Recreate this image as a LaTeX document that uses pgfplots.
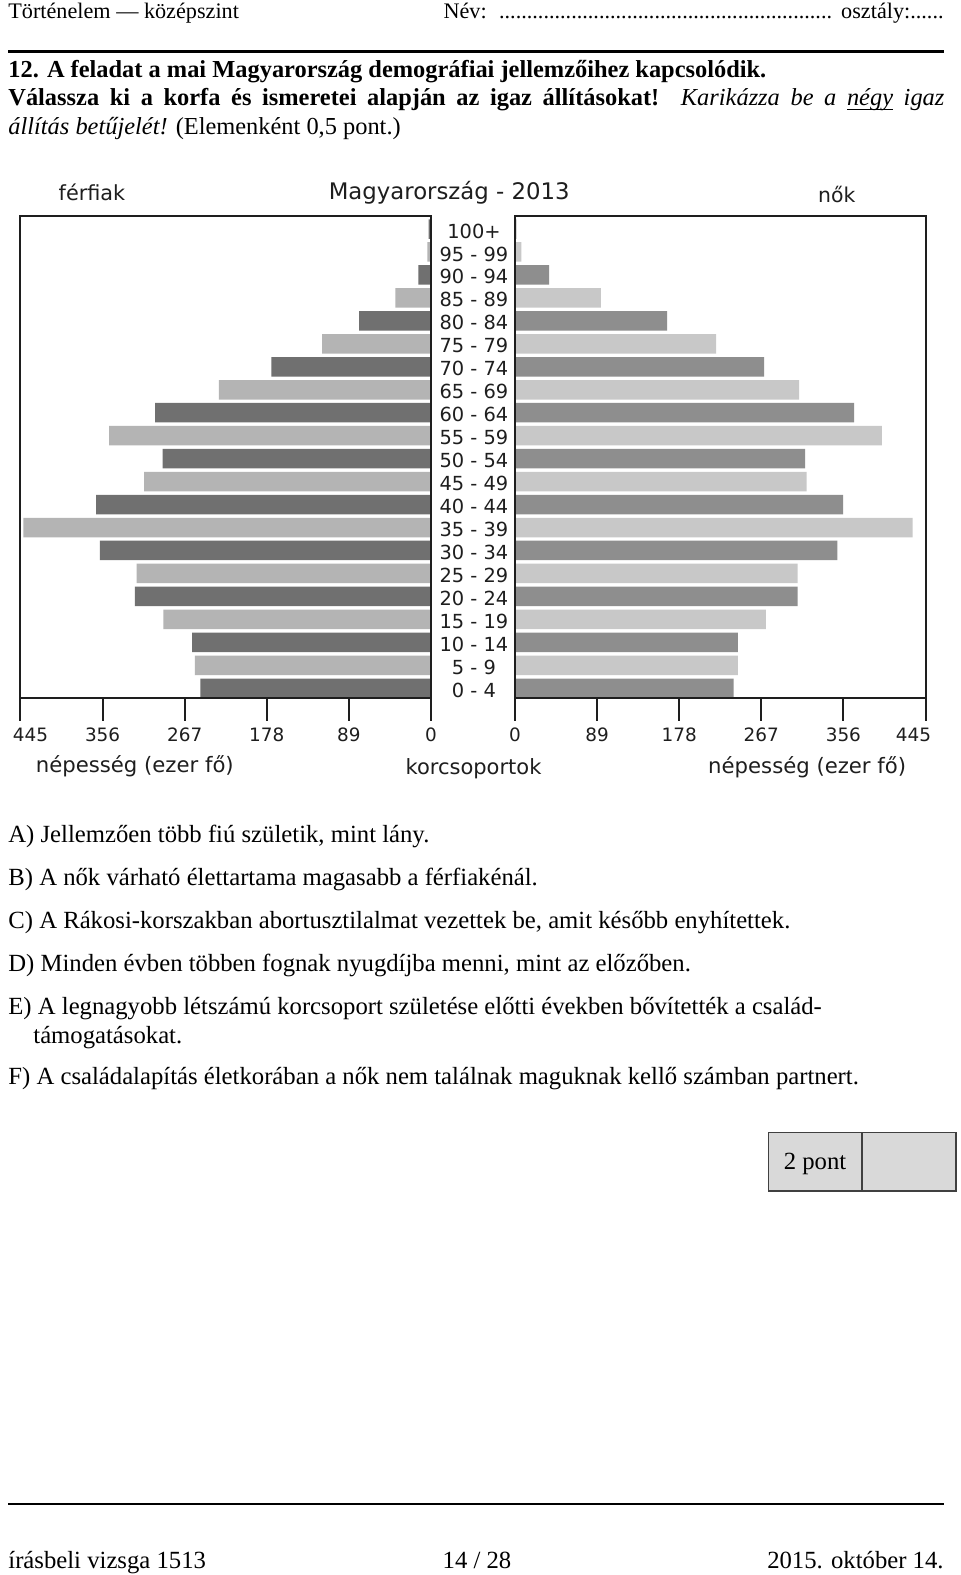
\documentclass[border=0pt]{standalone}
\usepackage{pgfplots}
\pgfplotsset{compat=1.18}
\usepackage{fontspec}
\setmainfont{Liberation Serif}
\newfontfamily\chartfont{DejaVu Sans}
\definecolor{mdark}{RGB}{112,112,112}
\definecolor{mlight}{RGB}{180,180,180}
\definecolor{fdark}{RGB}{142,142,142}
\definecolor{flight}{RGB}{200,200,200}
\definecolor{axisc}{RGB}{30,30,30}
\definecolor{boxg}{RGB}{217,217,217}
\newcommand\ul[1]{\setbox0\hbox{#1}\rlap{\rule[-2.2pt]{\wd0}{0.6pt}}\box0\relax}
\pgfplotsset{pyr/.style={scale only axis, width=205.25pt, height=241pt,
  xbar, bar width=9.75pt, bar shift=0pt,
  xmin=0, xmax=445, ymin=-0.41, ymax=20.58,
  axis line style={axisc, line width=1pt},
  tick style={axisc, line width=1pt},
  tick align=outside, major tick length=11.5pt,
  xtick pos=left,
  xtick={0,89,178,267,356,445},
  /pgf/number format/assume math mode=true,
  ticklabel style={font=\chartfont\fontsize{9.2}{11}\selectfont, text=axisc},
  axis on top}}
\begin{document}
\begin{tikzpicture}[x=0.5pt,y=0.5pt,font=\fontsize{12.35}{14.25}\selectfont]
\useasboundingbox (0,0) rectangle (960,1575);
\fill[white] (0,0) rectangle (960,1575);
% header
\node[anchor=base west, inner sep=0, font=\fontsize{11.1}{13}\selectfont] at (8,1556.5) {Történelem — középszint};
\node[anchor=base east, inner sep=0, font=\fontsize{11.1}{13}\selectfont] at (944,1556.5) {\hbox to 250pt{Név: \leaders\hbox{.}\hfill\ osztály:......}};
\draw[line width=1.3pt] (8,1523.5) -- (944,1523.5);
\node[anchor=base west, inner sep=0] at (8,1497.5) {\parbox[t]{468pt}{\fontsize{12.2}{14.25}\selectfont
\textbf{12. A feladat a mai Magyarország demográfiai jellemzőihez kapcsolódik.}\par
\textbf{Válassza ki a korfa és ismeretei alapján az igaz állításokat!} \textit{Karikázza be a \ul{négy} igaz}\linebreak
\textit{állítás betűjelét!} (Elemenként 0,5 pont.)}};

% chart: men
\begin{axis}[pyr, at={(10.25pt,438.65pt)}, anchor=south west, x dir=reverse,
  xticklabels={0,89,178,267,356,{\hspace*{10pt}445}},
  ytick=\empty]
\addplot[draw=none, fill=mdark, bar shift=0pt] coordinates {(250,0) (259,2) (321,4) (359,6) (363,8) (291,10) (299,12) (173,14) (78,16) (13.6,18) (2.5,20)};
\addplot[draw=none, fill=mlight, bar shift=0pt] coordinates {(256,1) (290,3) (319,5) (442,7) (311,9) (349,11) (230,13) (118,15) (38.5,17) (3.8,19)};
\end{axis}
% chart: women
\begin{axis}[pyr, at={(257.5pt,438.65pt)}, anchor=south west,
  xticklabels={0,89,178,267,356,{445\hspace*{12pt}}},
  ytick={0,...,20},
  yticklabels={0 - 4,5 - 9,10 - 14,15 - 19,20 - 24,25 - 29,30 - 34,35 - 39,40 - 44,45 - 49,50 - 54,55 - 59,60 - 64,65 - 69,70 - 74,75 - 79,80 - 84,85 - 89,90 - 94,95 - 99,100+},
  ytick style={draw=none},
  yticklabel style={anchor=center, xshift=-9pt, yshift=-1pt, font=\chartfont\fontsize{9.7}{11}\selectfont}]
\addplot[draw=none, fill=fdark, bar shift=0pt] coordinates {(237,0) (241.5,2) (306.5,4) (349.5,6) (355.7,8) (314.5,10) (367.6,12) (270,14) (165,16) (37,18) (1.5,20)};
\addplot[draw=none, fill=flight, bar shift=0pt] coordinates {(241.5,1) (272,3) (306.5,5) (431,7) (316,9) (397.6,11) (308,13) (218,15) (93,17) (7,19)};
\end{axis}
\begin{scope}[text=axisc]
\node[anchor=base, inner sep=0, font=\chartfont\fontsize{10.4}{12}\selectfont] at (92,1374.5) {férfiak};
\node[anchor=base, inner sep=0, font=\chartfont\fontsize{11.4}{13}\selectfont] at (449.2,1375) {Magyarország - 2013};
\node[anchor=base, inner sep=0, font=\chartfont\fontsize{10.2}{12}\selectfont] at (836.7,1372.7) {nők};
\node[anchor=base, inner sep=0, font=\chartfont\fontsize{10.6}{12}\selectfont] at (134.8,802) {népesség (ezer fő)};
\node[anchor=base, inner sep=0, font=\chartfont\fontsize{10.6}{12}\selectfont] at (807.2,801) {népesség (ezer fő)};
\node[anchor=base, inner sep=0, font=\chartfont\fontsize{10.5}{12}\selectfont] at (473.5,800) {korcsoportok};
\end{scope}

% statements
\node[anchor=base west, inner sep=0] at (8,732) {A) Jellemzően több fiú születik, mint lány.};
\node[anchor=base west, inner sep=0] at (8,689) {B) A nők várható élettartama magasabb a férfiakénál.};
\node[anchor=base west, inner sep=0] at (8,646) {C) A Rákosi-korszakban abortusztilalmat vezettek be, amit később enyhítettek.};
\node[anchor=base west, inner sep=0] at (8,603) {D) Minden évben többen fognak nyugdíjba menni, mint az előzőben.};
\node[anchor=base west, inner sep=0] at (8,560) {E) A legnagyobb létszámú korcsoport születése előtti években bővítették a család-};
\node[anchor=base west, inner sep=0] at (33,531) {támogatásokat.};
\node[anchor=base west, inner sep=0] at (8,490) {F) A családalapítás életkorában a nők nem találnak maguknak kellő számban partnert.};

% score box
\filldraw[fill=boxg, draw=black!75, line width=0.7pt] (768.3,442.3) rectangle (956,384);
\draw[black!75, line width=0.7pt] (862,442.3) -- (862,384);
\node[anchor=base, inner sep=0] at (815,405) {2 pont};

% footer
\draw[line width=1.3pt] (8,71) -- (944,71);
\node[anchor=base west, inner sep=0] at (8,6) {írásbeli vizsga 1513};
\node[anchor=base, inner sep=0] at (477,6) {14 / 28};
\node[anchor=base east, inner sep=0] at (944,6) {2015. október 14.};
\end{tikzpicture}
\end{document}
